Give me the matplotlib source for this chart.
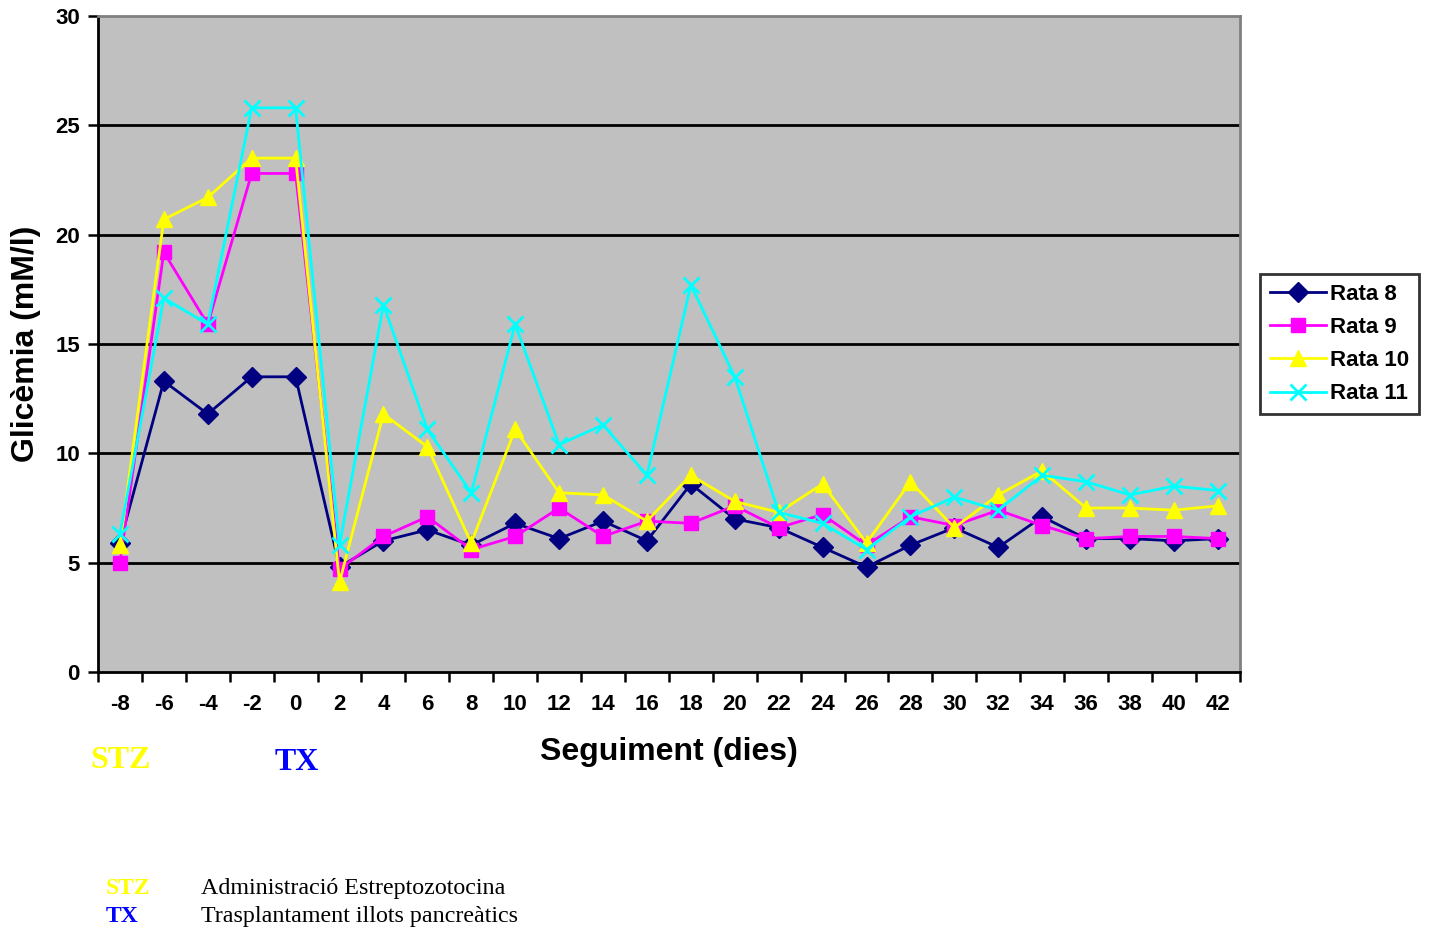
import matplotlib
matplotlib.use("Agg")
import matplotlib.pyplot as plt

days = [-8, -6, -4, -2, 0, 2, 4, 6, 8, 10, 12, 14, 16, 18, 20, 22, 24, 26, 28, 30, 32, 34, 36, 38, 40, 42]

rata_8 = [5.9, 13.3, 11.8, 13.5, 13.5, 4.8, 6.0, 6.5, 5.8, 6.8, 6.1, 6.9, 6.0, 8.6, 7.0,
          6.6, 5.7, 4.8, 5.8, 6.6, 5.7, 7.1, 6.1, 6.1, 6.0, 6.1]
rata_9 = [5.0, 19.2, 15.9, 22.8, 22.8, 4.7, 6.2, 7.1, 5.6, 6.2, 7.5, 6.2, 6.9, 6.8, 7.6,
          6.6, 7.2, 5.8, 7.1, 6.7, 7.4, 6.7, 6.1, 6.2, 6.2, 6.1]
rata_10 = [5.8, 20.7, 21.7, 23.5, 23.5, 4.1, 11.8, 10.3, 5.9, 11.1, 8.2, 8.1, 6.9, 9.0, 7.8,
           7.3, 8.6, 5.9, 8.7, 6.6, 8.1, 9.2, 7.5, 7.5, 7.4, 7.6]
rata_11 = [6.3, 17.1, 15.9, 25.8, 25.8, 5.8, 16.8, 11.1, 8.2, 15.9, 10.4, 11.3, 9.0, 17.7, 13.5,
           7.3, 6.8, 5.6, 7.1, 8.0, 7.4, 9.0, 8.7, 8.1, 8.5, 8.3]

series = [
    ("Rata 8", rata_8, "#000080", "D", 10),
    ("Rata 9", rata_9, "#FF00FF", "s", 10),
    ("Rata 10", rata_10, "#FFFF00", "^", 12),
    ("Rata 11", rata_11, "#00FFFF", "x", 11),
]

plt.rcParams["font.family"] = ["Liberation Sans", "DejaVu Sans"]

fig = plt.figure(figsize=(14.3, 9.3), dpi=100)
ax = fig.add_axes([0.0685, 0.2774, 0.7985, 0.7054])
ax.set_facecolor("#C0C0C0")

x = list(range(len(days)))
for name, vals, color, marker, ms in series:
    ax.plot(x, vals, color=color, marker=marker, markersize=ms, linewidth=2,
            markeredgewidth=2 if marker == "x" else 1, label=name, zorder=3)

ax.set_xlim(-0.5, len(days) - 0.5)
ax.set_ylim(0, 30)
ax.set_yticks(range(0, 31, 5))
for yv in range(5, 30, 5):
    ax.axhline(yv, color="black", linewidth=2, zorder=1)

ax.set_xticks(x)
ax.set_xticklabels([str(d) for d in days], fontsize=16, fontweight="bold")
ax.tick_params(axis="x", which="major", length=0, pad=16)
ax.set_xticks([i - 0.5 for i in range(len(days) + 1)], minor=True)
ax.tick_params(axis="x", which="minor", length=7, width=1.8, direction="out")
ax.tick_params(axis="y", length=7, width=1.8, labelsize=16, pad=6)
for lbl in ax.get_yticklabels():
    lbl.set_fontweight("bold")

for side in ["left", "bottom"]:
    ax.spines[side].set_color("black")
    ax.spines[side].set_linewidth(2)
for side in ["top", "right"]:
    ax.spines[side].set_color("#808080")
    ax.spines[side].set_linewidth(2)

ax.set_xlabel("Seguiment (dies)", fontsize=23, fontweight="bold", labelpad=16)
ax.set_ylabel("Glicèmia (mM/l)", fontsize=23, fontweight="bold", labelpad=10)

leg = ax.legend(loc="center left", bbox_to_anchor=(1.018, 0.5),
                prop={"weight": "bold", "size": 16}, frameon=True, fancybox=False,
                handlelength=2.5, borderpad=0.45, labelspacing=0.55, handletextpad=0.2,
                borderaxespad=0)
leg.get_frame().set_edgecolor("black")
leg.get_frame().set_linewidth(2)

fig.text(120 / 1430, 1 - 760 / 930, "STZ", color="#FFFF00", fontsize=23, fontweight="bold",
         family="Liberation Serif", ha="center", va="center")
fig.text(297 / 1430, 1 - 762 / 930, "TX", color="#0000FF", fontsize=23, fontweight="bold",
         family="Liberation Serif", ha="center", va="center")

fig.text(106 / 1430, 1 - 888 / 930, "STZ", color="#FFFF00", fontsize=17, fontweight="bold",
         family="Liberation Serif", ha="left", va="center")
fig.text(106 / 1430, 1 - 916 / 930, "TX", color="#0000FF", fontsize=17, fontweight="bold",
         family="Liberation Serif", ha="left", va="center")
fig.text(201 / 1430, 1 - 888 / 930, "Administració Estreptozotocina", color="black",
         fontsize=17.3, family="Liberation Serif", ha="left", va="center")
fig.text(201 / 1430, 1 - 916 / 930, "Trasplantament illots pancreàtics", color="black",
         fontsize=17.3, family="Liberation Serif", ha="left", va="center")

fig.savefig("out.png", dpi=100, facecolor="white")
